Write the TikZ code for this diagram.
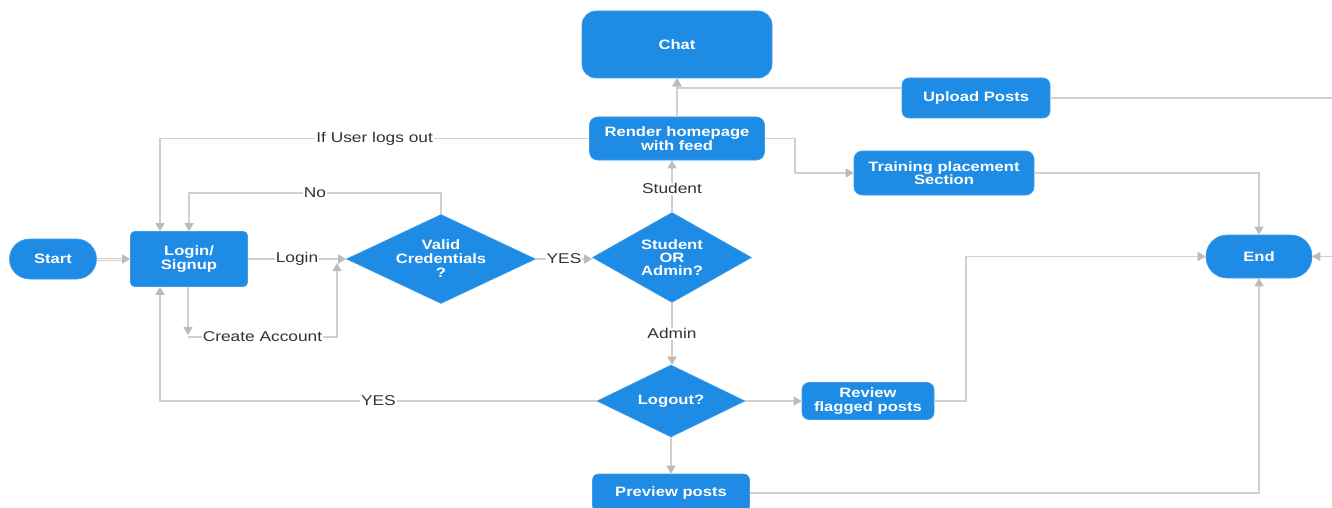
\documentclass[tikz,border=0pt]{standalone}
\usepackage{fontspec}
\setmainfont{Liberation Sans}[FakeStretch=1.22]
\usetikzlibrary{arrows.meta,shapes.geometric,calc}
\definecolor{nodeblue}{RGB}{30,139,229}
\definecolor{linegray}{RGB}{208,208,208}
\definecolor{tipgray}{RGB}{188,188,188}
\definecolor{labelcol}{RGB}{51,51,51}
\begin{document}
\begin{tikzpicture}[x=1pt,y=-1pt,
  box/.style={draw=nodeblue!85!white, line width=0.6pt, fill=nodeblue, text=white,
    font=\fontsize{13.6}{13.5}\selectfont\bfseries, align=center, inner sep=0pt},
  dia/.style={box, diamond, aspect=2, font=\fontsize{13.6}{14}\selectfont\bfseries},
  con/.style={draw=linegray, line width=1.6pt, -{Triangle[length=8pt,width=9pt,color=tipgray]}},
  lbl/.style={fill=white, text=labelcol, font=\fontsize{14.2}{16}\selectfont, inner sep=1pt}]
\useasboundingbox (0,0) rectangle (1332,508);
\clip (0,0) rectangle (1332,508);
\fill[white] (0,0) rectangle (1332,508);

% nodes
\node[box, rounded corners=20pt, minimum width=87pt, minimum height=40pt] (start) at (53,259) {Start};
\node[box, rounded corners=4pt, minimum width=117pt, minimum height=55pt] (login) at (189,259) {Login/\\Signup};
\node[dia, minimum width=189pt, minimum height=89pt] (valid) at (441,259) {Valid\\Credentials\\?};
\node[dia, minimum width=159pt, minimum height=90pt, font=\fontsize{13.6}{13.3}\selectfont\bfseries] (sora) at (672,257.5) {Student\\OR\\Admin?};
\node[box, rounded corners=14pt, minimum width=190pt, minimum height=67pt] (chat) at (677,44.5) {Chat};
\node[box, rounded corners=7pt, minimum width=148pt, minimum height=40pt] (upload) at (976,98) {Upload Posts};
\node[box, rounded corners=8pt, minimum width=175pt, minimum height=43pt] (render) at (677,138.5) {Render homepage\\with feed};
\node[box, rounded corners=8pt, minimum width=180pt, minimum height=44pt] (training) at (944,173) {Training placement\\Section};
\node[box, rounded corners=21pt, minimum width=106pt, minimum height=43pt] (endn) at (1259,256.5) {End};
\node[dia, minimum width=148pt, minimum height=72pt] (logout) at (671,401) {Logout?};
\node[box, rounded corners=7pt, minimum width=132pt, minimum height=37pt] (review) at (868,401) {Review\\flagged posts};
\node[box, rounded corners=6pt, minimum width=157pt, minimum height=38pt] (preview) at (671,493) {Preview posts};

% coordinates
\coordinate (ca1) at (188,337);
\coordinate (ca0) at (188,335);
\coordinate (ca2) at (337,337);
\coordinate (valin) at (337,263);
\coordinate (nA) at (189,193);
\coordinate (uA) at (160,138.5);
\coordinate (yA) at (160,401);
\coordinate (uj) at (677,88);
\coordinate (rt) at (795,138.5);
\coordinate (re) at (966,401);
\coordinate (off) at (1350,98);

% connectors
\draw[con, double=white, double distance=1pt, line width=1pt] (start.east) -- (login.west);
\draw[con] (login.east) -- node[lbl]{Login} (valid.west);
\draw[con] (login.south -| ca0) -- (ca0);
\draw[con] (ca1) -- node[lbl]{Create Account} (ca2) -- (valin);
\draw[con] (valid.north) |- node[lbl, pos=0.75]{No} (nA) -- (nA |- login.north);
\draw[con] (render.west) -- node[lbl]{If User logs out} (uA) -- (uA |- login.north);
\draw[con] (logout.west) -- node[lbl]{YES} (yA) -- (yA |- login.south);
\draw[con] (valid.east) -- node[lbl]{YES} (valid.east -| sora.west);
\draw[con] (sora.north) -- node[lbl, pos=0.45]{Student} (sora.north |- render.south);
\draw[con] (render.north) -- (render.north |- chat.south);
\draw[con] (upload.west |- uj) -- (uj) -- (uj |- chat.south);
\draw[con] (render.east) -- (rt) |- (training.west);
\draw[con] (training.east) -| (endn.north);
\draw[con] (review.east) -- (re) |- (endn.west);
\draw[con] (preview.east) -| (endn.south);
\draw[con] (upload.east) -- (off) |- (endn.east);
\draw[con] (sora.south) -- node[lbl]{Admin} (sora.south |- logout.north);
\draw[con] (logout.east) -- (review.west);
\draw[con] (logout.south) -- (preview.north);
\end{tikzpicture}
\end{document}
